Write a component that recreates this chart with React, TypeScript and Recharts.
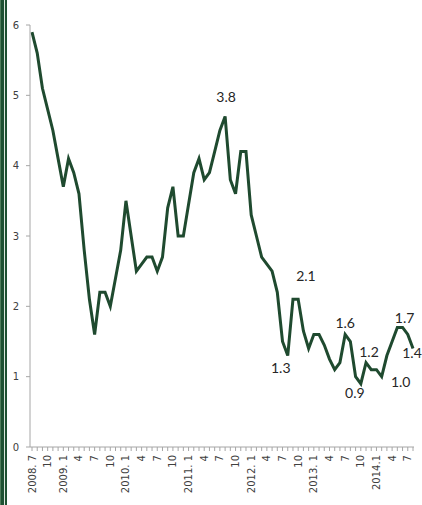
import React from "react";
import { LineChart, Line, XAxis, YAxis } from "recharts";

// monthly categories, 2008.7 .. 2014.8
const months = [
	"2008.7", "2008.8", "2008.9", "2008.10", "2008.11", "2008.12",
	"2009.1", "2009.2", "2009.3", "2009.4", "2009.5", "2009.6",
	"2009.7", "2009.8", "2009.9", "2009.10", "2009.11", "2009.12",
	"2010.1", "2010.2", "2010.3", "2010.4", "2010.5", "2010.6",
	"2010.7", "2010.8", "2010.9", "2010.10", "2010.11", "2010.12",
	"2011.1", "2011.2", "2011.3", "2011.4", "2011.5", "2011.6",
	"2011.7", "2011.8", "2011.9", "2011.10", "2011.11", "2011.12",
	"2012.1", "2012.2", "2012.3", "2012.4", "2012.5", "2012.6",
	"2012.7", "2012.8", "2012.9", "2012.10", "2012.11", "2012.12",
	"2013.1", "2013.2", "2013.3", "2013.4", "2013.5", "2013.6",
	"2013.7", "2013.8", "2013.9", "2013.10", "2013.11", "2013.12",
	"2014.1", "2014.2", "2014.3", "2014.4", "2014.5", "2014.6",
	"2014.7", "2014.8",
];

const rates = [
	5.9, 5.6, 5.1, 4.8, 4.5, 4.1,
	3.7, 4.1, 3.9, 3.6, 2.8, 2.1,
	1.6, 2.2, 2.2, 2.0, 2.4, 2.8,
	3.5, 3.0, 2.5, 2.6, 2.7, 2.7,
	2.5, 2.7, 3.4, 3.7, 3.0, 3.0,
	3.45, 3.9, 4.1, 3.8, 3.9, 4.2,
	4.5, 4.7, 3.8, 3.6, 4.2, 4.2,
	3.3, 3.0, 2.7, 2.6, 2.5, 2.2,
	1.5, 1.3, 2.1, 2.1, 1.65, 1.4,
	1.6, 1.6, 1.45, 1.25, 1.1, 1.2,
	1.6, 1.5, 1.0, 0.9, 1.2, 1.1,
	1.1, 1.0, 1.3, 1.5, 1.7, 1.7,
	1.6, 1.4,
];

const yTicks = [0, 1, 2, 3, 4, 5, 6];

const tickLabels: [string, string][] = [
	["2008.7", "2008. 7"], ["2008.10", "10"],
	["2009.1", "2009. 1"], ["2009.4", "4"], ["2009.7", "7"], ["2009.10", "10"],
	["2010.1", "2010. 1"], ["2010.4", "4"], ["2010.7", "7"], ["2010.10", "10"],
	["2011.1", "2011. 1"], ["2011.4", "4"], ["2011.7", "7"], ["2011.10", "10"],
	["2012.1", "2012. 1"], ["2012.4", "4"], ["2012.7", "7"], ["2012.10", "10"],
	["2013.1", "2013. 1"], ["2013.4", "4"], ["2013.7", "7"], ["2013.10", "10"],
	["2014.1", "2014.1"], ["2014.4", "4"], ["2014.7", "7"],
];

// annotated points: month -> text
const annotations: [string, string][] = [
	["2011.8", "3.8"],
	["2012.9", "2.1"],
	["2012.8", "1.3"],
	["2013.7", "1.6"],
	["2013.11", "1.2"],
	["2013.10", "0.9"],
	["2014.2", "1.0"],
	["2014.6", "1.7"],
	["2014.8", "1.4"],
];

// label placement relative to its point
const annotationOffsets: Record<string, [number, number]> = {
	"3.8": [1, -20],
	"2.1": [13, -24],
	"1.3": [-7, 12],
	"1.6": [0, -12],
	"1.2": [3, -11],
	"0.9": [-6, 9],
	"1.0": [19, 5],
	"1.7": [2, -10],
	"1.4": [-1, 4],
};

const data = months.map((m, i) => ({ month: m, rate: rates[i] }));
const tickMap = new Map(tickLabels);
const annotationMap = new Map(annotations);

const AXIS = "#a6a6a6";
const LINE = "#1f4a2f";

const MonthTick = (props: any) => {
	const { x, y, payload } = props;
	const label = tickMap.get(payload.value);
	if (!label) return <g />;
	return (
		<text
			transform={`translate(${x},${y}) rotate(-90)`}
			textAnchor="end"
			dy="0.35em"
			fontSize={10}
			fill="#404040"
			fontFamily="DejaVu Sans"
		>
			{label}
		</text>
	);
};

const Annotation = (props: any) => {
	const { x, y, index } = props;
	const text = annotationMap.get(months[index]);
	if (!text) return <g key={index} />;
	const [dx, dy] = annotationOffsets[text] || [0, -12];
	return (
		<text
			key={index}
			x={x + dx}
			y={y + dy}
			textAnchor="middle"
			dominantBaseline="central"
			fontSize={14}
			fill="#262626"
			fontFamily="Lato"
		>
			{text}
		</text>
	);
};

const App = () => {
	return (
		<div
			style={{
				position: "absolute",
				left: 0,
				top: 0,
				width: 422,
				height: 505,
				background: "#fff",
				overflow: "hidden",
			}}
		>
			<div style={{ position: "absolute", left: 0, top: 0, width: 7, height: 505, background: "#1d5132" }} />
			<div style={{ position: "absolute", left: 0, top: 0, width: 1, height: 505, background: "#4f7d5c" }} />
			<div style={{ position: "absolute", left: 4, top: 0, width: 1, height: 505, background: "#d9e6dc" }} />
			<LineChart
				width={422}
				height={505}
				data={data}
				margin={{ top: 25, right: 8, bottom: 0, left: 0 }}
			>
				<XAxis
					dataKey="month"
					scale="point"
					interval={0}
					padding={{ left: 2, right: 1 }}
					height={58}
					stroke={AXIS}
					tickSize={4}
					tickMargin={4}
					tick={<MonthTick />}
				/>
				<XAxis
					xAxisId="top"
					dataKey="month"
					orientation="top"
					height={0}
					stroke={AXIS}
					tick={false}
					tickLine={false}
				/>
				<YAxis
					domain={[0, 6]}
					ticks={yTicks}
					width={30}
					stroke={AXIS}
					tickSize={4}
					tickMargin={7}
					tick={{ fontSize: 10, fill: "#404040", fontFamily: "DejaVu Sans" }}
				/>
				<YAxis
					yAxisId="right"
					orientation="right"
					domain={[0, 6]}
					width={0}
					stroke={AXIS}
					tick={false}
					tickLine={false}
				/>
				<Line
					type="linear"
					dataKey="rate"
					stroke={LINE}
					strokeWidth={3}
					dot={false}
					isAnimationActive={false}
					label={Annotation}
				/>
			</LineChart>
		</div>
	);
};

export default App;
